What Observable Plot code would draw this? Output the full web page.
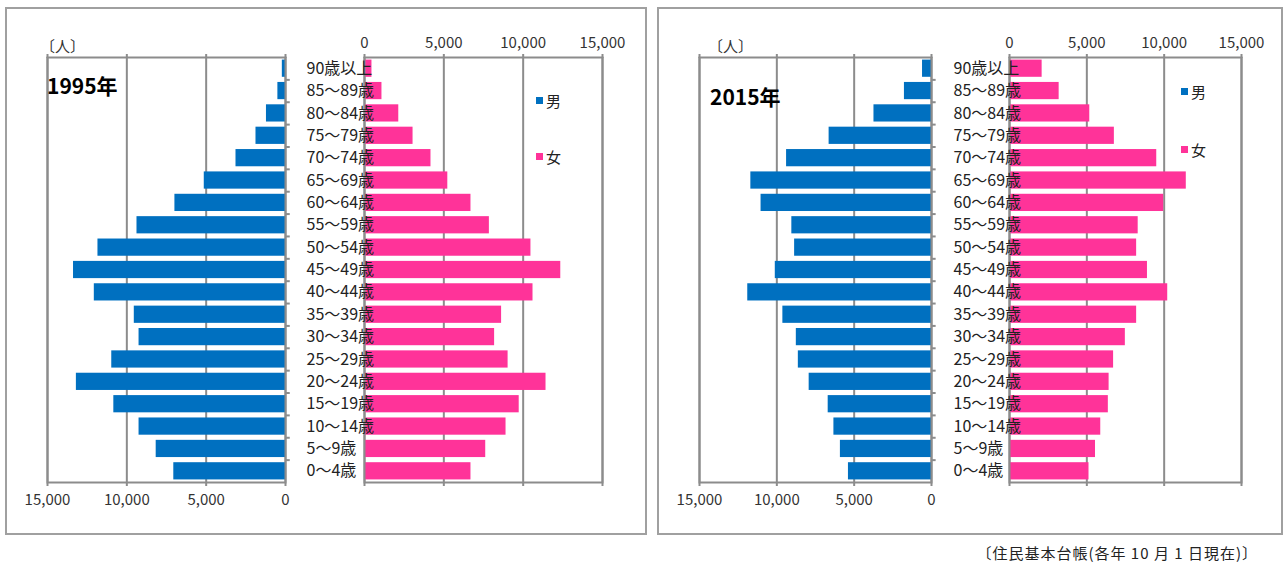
<!DOCTYPE html>
<html><head><meta charset="utf-8">
<script src="https://cdn.jsdelivr.net/npm/d3@7"></script>
<script src="https://cdn.jsdelivr.net/npm/@observablehq/plot@0.6"></script>
<style>
body{margin:0;background:#fff;font-family:"Noto Sans CJK JP","Noto Sans",sans-serif;color:#222}
#root{position:relative;width:1285px;height:563px;overflow:hidden;background:#fff}
.abs{position:absolute;white-space:nowrap;line-height:1}
.panel{position:absolute;border:2px solid #a0a0a0;box-sizing:border-box}
.sw{position:absolute;width:7px;height:7px}
.holder{position:absolute;top:0}
.holder svg{overflow:visible;background:transparent;max-width:none}
</style></head><body><div id="root"></div>
<script>
// ---- data ----
const ages = ["90歳以上","85～89歳","80～84歳","75～79歳","70～74歳","65～69歳","60～64歳","55～59歳","50～54歳","45～49歳","40～44歳","35～39歳","30～34歳","25～29歳","20～24歳","15～19歳","10～14歳","5～9歳","0～4歳"];
const male1995   = [200,480,1200,1860,3120,5120,6970,9360,11820,13360,12050,9530,9230,10950,13180,10820,9230,8150,7040];
const female1995 = [470,1100,2160,3060,4190,5250,6710,7870,10490,12370,10620,8640,8200,9050,11440,9750,8920,7640,6710];
const male2015   = [580,1750,3720,6620,9370,11680,11020,9030,8850,10100,11880,9610,8740,8610,7910,6680,6310,5890,5370];
const female2015 = [2110,3210,5190,6780,9520,11430,9970,8320,8220,8920,10230,8220,7490,6730,6440,6390,5900,5560,5140];
const xTicks = [0,5000,10000,15000];
const years = ["1995年","2015年"];
const sexes = ["男","女"];
const unitLabel = "〔人〕";
const caption = "〔住民基本台帳(各年 10 月 1 日現在)〕";

// ---- styles / layout ----
const BLUE = "#0070C0", PINK = "#FF3399", GRID = "#8c8c8c", TXT = "#222";
const FONT = '"Noto Sans CJK JP","Noto Sans",sans-serif';
const H = 520, TOP = 57, BOT = 482;
const root = document.getElementById("root");

function el(cls, css, text) {
  const d = document.createElement("div");
  d.className = cls;
  Object.assign(d.style, css);
  if (text != null) d.textContent = text;
  root.appendChild(d);
  return d;
}

function yScale() {
  return {domain: ages, paddingInner: 0.23, paddingOuter: 0.115, round: false, axis: null};
}

function malePlot(values, left, x15, x0) {
  const W = x0 + 15 - left;
  const data = ages.map((a, i) => ({age: a, v: values[i]}));
  const step = (BOT - TOP) / ages.length;
  const p = Plot.plot({
    width: W, height: H,
    marginLeft: x15 - left, marginRight: left + W - x0,
    marginTop: TOP, marginBottom: H - BOT,
    x: {domain: [0, 15000], reverse: true, axis: null},
    y: yScale(),
    style: {fontFamily: FONT, background: "transparent", overflow: "visible"},
    marks: [
      Plot.gridX(xTicks, {stroke: GRID, strokeOpacity: 1, strokeWidth: 2}),
      Plot.barX(data, {x: "v", y: "age", fill: BLUE}),
      Plot.frame({stroke: GRID, strokeWidth: 2}),
      Plot.ruleY(ages.slice(1), {y: d => d, x1: 0, x2: -300, dy: -step / 2, stroke: GRID, strokeWidth: 2}),
      Plot.axisX({anchor: "top", ticks: xTicks, tickSize: 4, tickFormat: () => "", stroke: GRID, strokeWidth: 2, label: null}),
      Plot.axisX({anchor: "bottom", ticks: xTicks, tickSize: 4, tickPadding: 8, tickFormat: d3.format(","), stroke: GRID, strokeWidth: 2, fill: "#333", fontSize: 15, fontFamily: FONT, label: null})
    ]
  });
  const h = el("holder", {left: left + "px"});
  h.appendChild(p);
}

function femalePlot(values, x0, x15, labelX) {
  const left = x0 - 80;
  const W = 80 + (x15 - x0) + 40;
  const data = ages.map((a, i) => ({age: a, v: values[i]}));
  const p = Plot.plot({
    width: W, height: H,
    marginLeft: 80, marginRight: 40,
    marginTop: TOP, marginBottom: H - BOT,
    x: {domain: [0, 15000], axis: null},
    y: yScale(),
    style: {fontFamily: FONT, background: "transparent", overflow: "visible"},
    marks: [
      Plot.gridX(xTicks, {stroke: GRID, strokeOpacity: 1, strokeWidth: 2}),
      Plot.barX(data, {x: "v", y: "age", fill: PINK}),
      Plot.frame({stroke: GRID, strokeWidth: 2}),
      Plot.axisX({anchor: "top", ticks: xTicks, tickSize: 4, tickPadding: 6, tickFormat: d3.format(","), stroke: GRID, strokeWidth: 2, fill: "#333", fontSize: 15, fontFamily: FONT, label: null}),
      Plot.axisX({anchor: "bottom", ticks: xTicks, tickSize: 4, tickFormat: () => "", stroke: GRID, strokeWidth: 2, label: null}),
      Plot.text(ages, {y: d => d, text: d => d, frameAnchor: "left", textAnchor: "start", dx: labelX - x0, fontSize: 16, fontFamily: FONT, fill: TXT})
    ]
  });
  const h = el("holder", {left: left + "px"});
  h.appendChild(p);
}

// panel frames
el("panel", {left: "5px", top: "7px", width: "642px", height: "528px"});
el("panel", {left: "657px", top: "7px", width: "626px", height: "528px"});

// panels
const panels = [
  {year: years[0], m: male1995, f: female1995, mx15: 47, mx0: 285, fx0: 364, fx15: 602, labelX: 306,
   unit: [40, 38], title: [47, 75], leg: [536, 97, 153]},
  {year: years[1], m: male2015, f: female2015, mx15: 699, mx0: 931, fx0: 1009, fx15: 1241, labelX: 953,
   unit: [708, 38], title: [710, 86], leg: [1181, 88, 146]}
];
for (const P of panels) {
  malePlot(P.m, P.mx15 - 47, P.mx15, P.mx0);
  femalePlot(P.f, P.fx0, P.fx15, P.labelX);
  el("abs", {left: P.unit[0] + "px", top: P.unit[1] + "px", fontSize: "15px", color: "#333"}, unitLabel);
  el("abs", {left: P.title[0] + "px", top: P.title[1] + "px", fontSize: "21px", fontWeight: "bold", color: "#000"}, P.year);
  el("sw", {left: P.leg[0] + "px", top: P.leg[1] + "px", background: BLUE});
  el("abs", {left: (P.leg[0] + 10) + "px", top: (P.leg[1] - 4) + "px", fontSize: "15px", color: TXT}, sexes[0]);
  el("sw", {left: P.leg[0] + "px", top: P.leg[2] + "px", background: PINK});
  el("abs", {left: (P.leg[0] + 10) + "px", top: (P.leg[2] - 4) + "px", fontSize: "15px", color: TXT}, sexes[1]);
}
el("abs", {right: (1285 - 1258) + "px", top: "545px", fontSize: "15px", letterSpacing: "1px", color: TXT}, caption);
</script>
</body></html>
